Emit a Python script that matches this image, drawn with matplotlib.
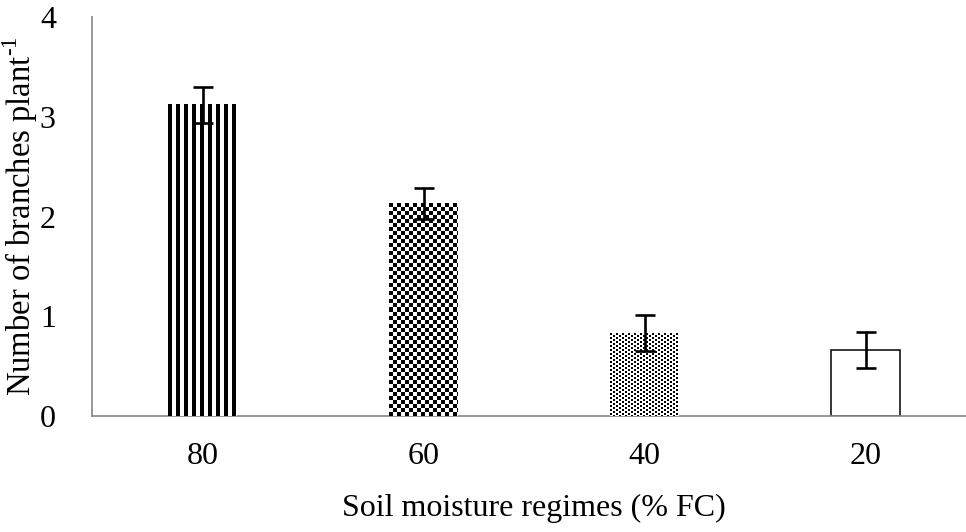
import numpy as np
import matplotlib.pyplot as plt

regimes = ['80', '60', '40', '20']
branches = [3.12, 2.13, 0.83, 0.66]
sem = [0.18, 0.16, 0.18, 0.18]
fills = ['stripes', 'checker', 'dots', 'plain']

plt.rcParams['font.family'] = 'Liberation Serif'
plt.rcParams['mathtext.fontset'] = 'custom'
plt.rcParams['mathtext.rm'] = 'Liberation Serif'


def texture(kind, h, w):
    # pixel patterns for the bar fills, 1 = black
    r, c = np.mgrid[0:h, 0:w]
    if kind == 'stripes':
        on = (c % 8) < 4
    elif kind == 'checker':
        on = ((r // 4) + (c // 4)) % 2 == 0
    else:
        on = (((r % 4) < 2) & ((c % 6) < 2)) | (((r % 4) >= 2) & (((c + 3) % 6) < 2))
    return on.astype(float)


fig = plt.figure(figsize=(9.66, 5.32), dpi=100)
ax = fig.add_axes([92 / 966, (532 - 416) / 532, 884 / 966, (416 - 17) / 532])

x = np.arange(len(regimes))
bars = ax.bar(x, branches, width=0.31, color='white', edgecolor='none', zorder=2)
ax.set_xlim(-0.5, 3.5)
ax.set_ylim(0, 4)

for patch, kind in zip(bars, fills):
    if kind == 'plain':
        patch.set_edgecolor('black')
        patch.set_linewidth(1.1)
        continue
    bb = patch.get_window_extent()
    h = int(round(bb.height))
    w = int(round(bb.width))
    ax.imshow(texture(kind, h, w), cmap='gray_r', vmin=0, vmax=1,
              extent=(patch.get_x(), patch.get_x() + patch.get_width(), 0, patch.get_height()),
              interpolation='nearest', aspect='auto', zorder=3, clip_path=patch)

ax.set_xlim(-0.5, 3.5)
ax.set_ylim(0, 4)

ax.errorbar(x, branches, yerr=sem, fmt='none', ecolor='black', elinewidth=1.9,
            capsize=7, capthick=1.9, zorder=5)

ax.set_xticks(x)
ax.set_xticklabels(regimes)
ax.set_yticks([0, 1, 2, 3, 4])
ax.tick_params(axis='both', length=0, labelsize=23)
ax.tick_params(axis='y', pad=26)
ax.tick_params(axis='x', pad=19)

for side in ['top', 'right']:
    ax.spines[side].set_visible(False)
for side in ['left', 'bottom']:
    ax.spines[side].set_color('#868686')
    ax.spines[side].set_linewidth(1.2)

ax.set_xlabel('Soil moisture regimes (% FC)', fontsize=23, labelpad=16)
ax.set_ylabel('Number of branches plant$^{\u2010\\mathrm{1}}$', fontsize=23.5, labelpad=0)

fig.savefig('out.png', dpi=100)
